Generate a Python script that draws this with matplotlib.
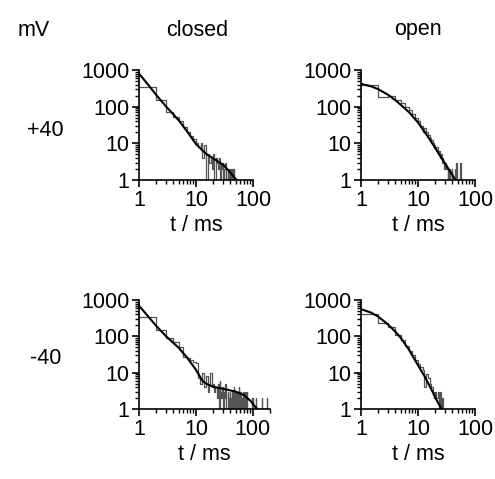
"""Dwell-time histograms (closed / open) at +40 and -40 mV with fitted curves."""

import matplotlib

matplotlib.use("Agg")
import matplotlib.pyplot as plt
import numpy as np
from matplotlib.ticker import FixedLocator, LogLocator, NullFormatter

plt.rcParams["font.family"] = ["Liberation Sans", "DejaVu Sans"]

# histogram counts, 1 ms bins starting at t = 1 ms
closed_p40 = [340, 150, 72, 53, 40, 28, 20, 16, 13, 10, 8, 10, 4, 9, 1, 5, 3, 4, 2, 5,
              1, 4, 3, 2, 4, 1, 3, 2, 3, 1, 2, 3, 1, 2, 2, 1, 0, 2, 1, 2,
              1, 1, 2, 0, 1, 2, 1, 1, 0, 1]
open_p40 = [400, 185, 190, 150, 125, 100, 80, 62, 50, 40, 30, 21, 26, 20, 17, 14, 12, 10, 9, 7,
            8, 5, 6, 4, 5, 3, 4, 3, 2, 3, 2, 2, 1, 2, 1, 2, 0, 1, 2, 1,
            0, 1, 1, 0, 2, 0, 3, 0, 1, 1, 1, 1, 1, 1, 3]
closed_m40 = [330, 150, 88, 71, 52, 27, 26, 22, 20, 18, 7, 5, 10, 4, 8, 3, 5, 10, 4, 5,
              3, 4, 2, 5, 0, 6, 3, 2, 4, 1, 3, 2, 5, 1, 0, 3, 2, 1, 3, 2,
              2, 1, 3, 0, 2, 4, 1, 2, 3, 1, 2, 0, 3, 1, 2, 1, 4, 2, 1, 3,
              1, 2, 0, 2, 1, 3, 2, 1, 2, 3, 1, 1, 1, 3, 1, 1, 1, 3, 1, 1,
              1, 1, 1, 1, 1, 1, 1, 1, 1, 1, 1, 1, 1, 1, 1, 2, 1, 1, 2, 1,
              1, 1, 1, 1, 1, 1, 1, 1, 1, 1, 1, 2, 1, 1, 1, 1, 1, 1, 1, 1,
              1, 1, 1, 1, 1, 1, 1, 1, 1, 1, 1, 1, 1, 1, 1, 1, 1, 1, 1, 1,
              1, 1, 1, 2, 1, 1, 1, 1, 1, 1, 1, 1, 1, 1, 1, 1, 1, 1, 1, 1,
              1, 1, 1, 1, 1, 1, 1, 1, 1, 1, 1, 1, 1, 1, 2, 1, 1, 1, 1, 1]
open_m40 = [420, 230, 180, 110, 80, 55, 40, 30, 22, 17, 14, 12, 4, 9, 7, 5, 4, 3, 2, 3,
            2, 3, 1, 3, 1, 2, 1]

# fitted curves: (t in ms, count)
fit_closed_p40_t = [1, 1.5, 2, 3, 4, 5, 7, 10, 15, 20, 30, 40, 50]
fit_closed_p40_y = [800, 370, 210, 100, 62, 42, 21, 9.5, 5.2, 3.9, 2.6, 1.6, 1.05]
fit_open_p40_t = [1, 1.5, 2, 3, 4, 5, 7, 10, 15, 20, 25, 30, 35, 40, 45]
fit_open_p40_y = [420, 360, 300, 210, 150, 112, 70, 37, 15, 7.5, 4.3, 2.8, 1.9, 1.4, 1.0]
fit_closed_m40_t = [1, 1.5, 2, 3, 5, 7, 10, 13, 15, 20, 30, 50, 70, 90, 110, 120]
fit_closed_m40_y = [700, 330, 195, 100, 48, 26, 12, 6, 5, 4.1, 3.6, 3.0, 2.4, 1.7, 1.15, 1.0]
fit_open_m40_t = [1, 1.5, 2, 3, 4, 5, 7, 10, 13, 15, 18, 20, 23, 26]
fit_open_m40_y = [560, 450, 350, 210, 135, 90, 42, 16, 8, 5.2, 3.0, 2.1, 1.4, 1.0]

W, H = 495, 479
FS = 15.5


def _axes(fig, x0, y_top, x1, y_bot):
    return fig.add_axes([x0 / W, 1 - y_bot / H, (x1 - x0) / W, (y_bot - y_top) / H])


def _panel(ax, counts, fit_t, fit_y, xmax):
    counts = np.asarray(counts, dtype=float)
    edges = np.arange(len(counts) + 1) + 1.0
    ax.plot(edges, np.append(counts, 0.0), drawstyle="steps-post", color="#555555", lw=0.9)
    ax.plot(fit_t, fit_y, color="black", lw=1.5)
    ax.set_xscale("log")
    ax.set_yscale("log")
    ax.set_xlim(1, xmax)
    ax.set_ylim(1, 1000)
    for side in ("top", "right"):
        ax.spines[side].set_visible(False)
    for side in ("left", "bottom"):
        ax.spines[side].set_linewidth(1.2)
    ax.xaxis.set_major_locator(FixedLocator([1, 10, 100]))
    ax.set_xticklabels(["1", "10", "100"])
    ax.yaxis.set_major_locator(FixedLocator([1, 10, 100, 1000]))
    ax.set_yticklabels(["1", "10", "100", "1000"])
    ax.xaxis.set_minor_locator(LogLocator(base=10, subs=np.arange(2, 10)))
    ax.yaxis.set_minor_locator(LogLocator(base=10, subs=np.arange(2, 10)))
    ax.xaxis.set_minor_formatter(NullFormatter())
    ax.yaxis.set_minor_formatter(NullFormatter())
    ax.tick_params(which="major", direction="out", length=5, width=1.2, labelsize=FS, pad=2)
    ax.tick_params(which="minor", direction="out", length=3, width=1.0)
    ax.set_xlabel("t / ms", fontsize=FS, labelpad=3)
    ax.set_facecolor("none")


fig = plt.figure(figsize=(W / 100, H / 100), dpi=100)

ax = _axes(fig, 139, 70, 253, 180)
_panel(ax, closed_p40, fit_closed_p40_t, fit_closed_p40_y, 100)
ax = _axes(fig, 361, 70, 475, 180)
_panel(ax, open_p40, fit_open_p40_t, fit_open_p40_y, 100)
ax = _axes(fig, 139, 300, 270, 409)
_panel(ax, closed_m40, fit_closed_m40_t, fit_closed_m40_y, 200)
ax = _axes(fig, 361, 300, 475, 409)
_panel(ax, open_m40, fit_open_m40_t, fit_open_m40_y, 100)

fig.text(34 / W, 1 - 30 / H, "mV", fontsize=FS, ha="center", va="center")
fig.text(197 / W, 1 - 30 / H, "closed", fontsize=FS, ha="center", va="center")
fig.text(418 / W, 1 - 30 / H, "open", fontsize=FS, ha="center", va="center")
fig.text(45 / W, 1 - 131 / H, "+40", fontsize=FS, ha="center", va="center")
fig.text(46 / W, 1 - 359 / H, "-40", fontsize=FS, ha="center", va="center")

fig.savefig("out.png", dpi=100)
